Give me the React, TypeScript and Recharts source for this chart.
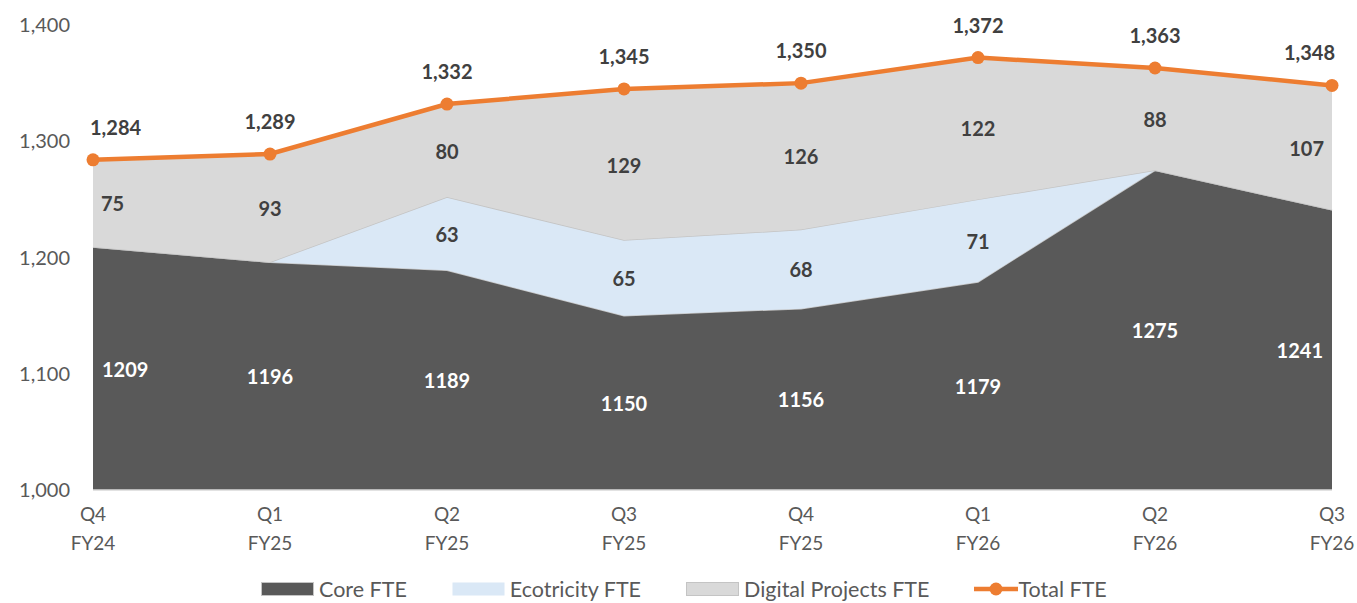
import { ComposedChart, Area, Line, XAxis, YAxis, Legend, LabelList } from 'recharts';

const categories = ['Q4 FY24', 'Q1 FY25', 'Q2 FY25', 'Q3 FY25', 'Q4 FY25', 'Q1 FY26', 'Q2 FY26', 'Q3 FY26'];
const coreFte = [1209, 1196, 1189, 1150, 1156, 1179, 1275, 1241];
const ecotricityFte = [0, 0, 63, 65, 68, 71, 0, 0];
const digitalFte = [75, 93, 80, 129, 126, 122, 88, 107];
const totalFte = [1284, 1289, 1332, 1345, 1350, 1372, 1363, 1348];
const yTicks = [1000, 1100, 1200, 1300, 1400];
const seriesNames = ['Core FTE', 'Ecotricity FTE', 'Digital Projects FTE', 'Total FTE'];

const FONT = "Lato, 'Open Sans', sans-serif";
const CORE = '#595959';
const ECO = '#DAE8F6';
const DIGITAL = '#D9D9D9';
const TOTAL = '#ED7D31';
const EDGE = '#C4C4C4';

const data = categories.map((name, i) => ({
  name,
  core: coreFte[i],
  eco: ecotricityFte[i],
  digital: digitalFte[i],
  total: totalFte[i],
  // label anchors: middle of each stacked band (the core band starts at the axis floor)
  coreMid: (yTicks[0] + coreFte[i]) / 2,
  ecoMid: ecotricityFte[i] > 0 ? coreFte[i] + ecotricityFte[i] / 2 : null,
  digitalMid: coreFte[i] + ecotricityFte[i] + digitalFte[i] / 2,
}));

const makeLabel =
  (fill: string, inset: number, dy: number, comma: boolean) =>
  (props: any) => {
    const { x, y, index, value } = props;
    if (x == null || y == null || !value) return null;
    let anchor: 'start' | 'middle' | 'end' = 'middle';
    let tx = x;
    if (index === 0) {
      anchor = 'start';
      tx = x + inset;
    } else if (index === categories.length - 1) {
      anchor = 'end';
      tx = x - inset;
    }
    return (
      <text
        x={tx}
        y={y + dy}
        textAnchor={anchor}
        dominantBaseline="central"
        fill={fill}
        fontSize={20}
        fontWeight={700}
        fontFamily={FONT}
      >
        {comma ? Number(value).toLocaleString('en-US') : String(value)}
      </text>
    );
  };

const XTick = ({ x, y, payload }: any) => {
  const [q, fy] = String(payload.value).split(' ');
  return (
    <text x={x} y={y} textAnchor="middle" fill="#595959" fontSize={19} fontFamily={FONT}>
      <tspan x={x} dy={31}>{q}</tspan>
      <tspan x={x} dy={29}>{fy}</tspan>
    </text>
  );
};

const renderLegend = () => {
  const swatch = (i: number) => {
    if (i === 3) {
      return (
        <svg width={44} height={16}>
          <line x1={0} y1={8} x2={44} y2={8} stroke={TOTAL} strokeWidth={4.5} />
          <circle cx={22} cy={8} r={6.5} fill={TOTAL} />
        </svg>
      );
    }
    const fill = [CORE, ECO, DIGITAL][i];
    return (
      <svg width={53} height={14}>
        <rect x={0.5} y={0.5} width={52} height={13} fill={fill} stroke={i === 1 ? 'none' : EDGE} />
      </svg>
    );
  };
  return (
    <div
      style={{
        display: 'flex',
        alignItems: 'center',
        height: 30,
        fontFamily: FONT,
        fontSize: 21.5,
        color: '#595959',
        whiteSpace: 'nowrap',
      }}
    >
      {seriesNames.map((name, i) => (
        <div key={name} style={{ display: 'flex', alignItems: 'center', marginRight: 45 }}>
          {swatch(i)}
          <span style={{ marginLeft: i === 3 ? 0 : 5 }}>{name}</span>
        </div>
      ))}
    </div>
  );
};

export default function App() {
  return (
    <div style={{ position: 'absolute', left: 0, top: 0, width: 1357, height: 603, background: '#fff' }}>
      <ComposedChart width={1357} height={603} data={data} margin={{ top: 25, right: 25, left: 0, bottom: 23 }}>
        <XAxis
          dataKey="name"
          scale="point"
          padding={{ left: 0, right: 0 }}
          interval={0}
          height={60}
          tickLine={false}
          tickSize={0}
          tickMargin={0}
          axisLine={{ stroke: '#D9D9D9', strokeWidth: 1.5 }}
          tick={<XTick />}
        />
        <YAxis
          width={93}
          domain={[yTicks[0], yTicks[yTicks.length - 1]]}
          ticks={yTicks}
          allowDataOverflow
          axisLine={false}
          tickLine={false}
          tickSize={0}
          tickMargin={23}
          tick={{ fill: '#595959', fontSize: 20, fontFamily: FONT }}
          tickFormatter={(v: number) => v.toLocaleString('en-US')}
        />
        <Legend
          verticalAlign="bottom"
          align="left"
          content={renderLegend}
          wrapperStyle={{ left: 261, top: 574, width: 1050, height: 30 }}
        />
        <Area
          type="linear"
          dataKey="core"
          stackId="fte"
          fill={CORE}
          fillOpacity={1}
          stroke={EDGE}
          strokeWidth={1.5}
          isAnimationActive={false}
        />
        <Area
          type="linear"
          dataKey="eco"
          stackId="fte"
          fill={ECO}
          fillOpacity={1}
          stroke={EDGE}
          strokeWidth={1.5}
          isAnimationActive={false}
        />
        <Area
          type="linear"
          dataKey="digital"
          stackId="fte"
          fill={DIGITAL}
          fillOpacity={1}
          stroke={EDGE}
          strokeWidth={1.5}
          isAnimationActive={false}
        />
        <Line dataKey="coreMid" stroke="none" dot={false} activeDot={false} legendType="none" isAnimationActive={false}>
          <LabelList valueAccessor={(e: any) => e.payload.core} content={makeLabel('#FFFFFF', 9, 0, false)} />
        </Line>
        <Line dataKey="ecoMid" stroke="none" dot={false} activeDot={false} legendType="none" isAnimationActive={false}>
          <LabelList valueAccessor={(e: any) => e.payload.eco} content={makeLabel('#404040', 8, 0, false)} />
        </Line>
        <Line dataKey="digitalMid" stroke="none" dot={false} activeDot={false} legendType="none" isAnimationActive={false}>
          <LabelList valueAccessor={(e: any) => e.payload.digital} content={makeLabel('#404040', 8, 0, false)} />
        </Line>
        <Line
          dataKey="total"
          stroke={TOTAL}
          strokeWidth={4.5}
          dot={{ r: 6.5, fill: TOTAL, stroke: TOTAL, strokeWidth: 0 }}
          activeDot={false}
          isAnimationActive={false}
        >
          <LabelList dataKey="total" content={makeLabel('#404040', -3, -33, true)} />
        </Line>
      </ComposedChart>
    </div>
  );
}
